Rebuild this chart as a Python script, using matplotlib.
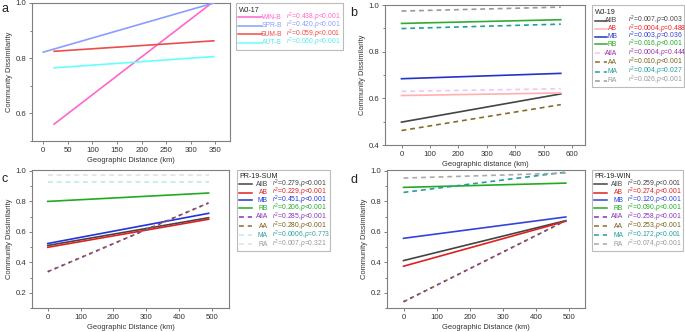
import matplotlib
matplotlib.use("Agg")
import matplotlib.pyplot as plt
from matplotlib.lines import Line2D
from matplotlib.patches import Rectangle
from matplotlib.ticker import MultipleLocator

plt.rcParams['font.family'] = ['Liberation Sans', 'DejaVu Sans']
plt.rcParams['mathtext.fontset'] = 'custom'
plt.rcParams['mathtext.rm'] = 'Liberation Sans'
plt.rcParams['mathtext.it'] = 'Liberation Sans:italic'
plt.rcParams['lines.scale_dashes'] = False

# ---------------- data ----------------
# Panel a (WJ-17)
a_names = ["WIN-B", "SPR-B", "SUM-B", "AUT-B"]
a_x0 = [22, 0, 22, 22]
a_x1 = [345, 347, 347, 347]
a_y0 = [0.561, 0.822, 0.825, 0.765]
a_y1 = [1.003, 1.000, 0.863, 0.806]
a_stats = ["0.438,$p$<0.001", "0.420,$p$<0.001", "0.059,$p$<0.001", "0.060,$p$<0.001"]

# Panel b (WJ-19)
b_names = ["AllB", "AB", "MB", "RB", "AllA", "AA", "MA", "RA"]
b_x0 = [0] * 8
b_x1 = [560] * 8
b_y0 = [0.498, 0.612, 0.684, 0.921, 0.630, 0.462, 0.899, 0.974]
b_y1 = [0.619, 0.623, 0.707, 0.937, 0.641, 0.573, 0.918, 0.991]
b_stats = ["0.007,$p$=0.003", "0.0004,$p$=0.488", "0.003,$p$=0.036", "0.016,$p$<0.001",
           "0.0004,$p$=0.444", "0.010,$p$<0.001", "0.004,$p$=0.027", "0.026,$p$<0.001"]

# Panel c (PR-19-SUM)
c_names = ["AllB", "AB", "MB", "RB", "AllA", "AA", "MA", "RA"]
c_x0 = [0] * 8
c_x1 = [490] * 8
c_y0 = [0.510, 0.498, 0.523, 0.799, 0.338, 0.338, 0.926, 0.974]
c_y1 = [0.692, 0.682, 0.721, 0.854, 0.789, 0.789, 0.926, 0.974]
c_stats = ["0.279,$p$<0.001", "0.229,$p$<0.001", "0.451,$p$<0.001", "0.206,$p$<0.001",
           "0.285,$p$<0.001", "0.280,$p$<0.001", "0.0006,$p$=0.773", "0.007,$p$=0.321"]

# Panel d (PR-19-WIN)
d_names = ["AllB", "AB", "MB", "RB", "AllA", "AA", "MA", "RA"]
d_x0 = [0] * 8
d_x1 = [490] * 8
d_y0 = [0.411, 0.374, 0.557, 0.891, 0.141, 0.141, 0.858, 0.952]
d_y1 = [0.673, 0.669, 0.697, 0.919, 0.673, 0.673, 0.991, 0.985]
d_stats = ["0.259,$p$<0.001", "0.274,$p$<0.001", "0.120,$p$<0.001", "0.090,$p$<0.001",
           "0.258,$p$<0.001", "0.253,$p$<0.001", "0.172,$p$<0.001", "0.074,$p$=0.001"]

# ---------------- styles ----------------
SOLID = '-'
DASH = (0, (3.5, 2.8))
a_line_colors = ['#ff66cc', '#8c9cff', '#ee4d4d', '#66ffff']
a_text_colors = ['#ff66cc', '#8c9cff', '#ee4d4d', '#55eeee']
a_ls = [SOLID] * 4

b_line_colors = ['#444444', '#ffb0b0', '#2233cc', '#33aa33', '#ecc8f4', '#8b6b2a', '#229e9e', '#9a9a9a']
b_text_colors = ['#444444', '#ee2222', '#3344cc', '#22aa22', '#9933aa', '#7a5c1a', '#229e9e', '#999999']
c_line_colors = ['#444444', '#e02020', '#2233dd', '#22aa22', '#8833bb', '#8b6b2a', '#bfeaea', '#e2e2e2']
c_text_colors = ['#444444', '#e02020', '#2233dd', '#22aa22', '#8833bb', '#7a5c1a', '#30a0a0', '#999999']
d_line_colors = ['#444444', '#e02020', '#3344dd', '#22aa22', '#8833bb', '#8b6b2a', '#229e9e', '#aaaaaa']
d_text_colors = ['#444444', '#e02020', '#3344dd', '#22aa22', '#8833bb', '#7a5c1a', '#229e9e', '#999999']
bcd_ls = [SOLID, SOLID, SOLID, SOLID, DASH, DASH, DASH, DASH]

fig = plt.figure(figsize=(6.85, 3.32), dpi=100)

W, H = 685.0, 332.0
def fx(x):
    return x / W
def fy(y):
    return 1 - y / H
def pos(l, t, r, b):
    return [l / W, 1 - b / H, (r - l) / W, (b - t) / H]

axa = fig.add_axes(pos(32, 3, 230, 141))
axb = fig.add_axes(pos(385, 5, 585, 145))
axc = fig.add_axes(pos(32, 170, 229, 308))
axd = fig.add_axes(pos(387, 170, 585, 308))

TFS = 5.6
LFS = 5.4

def style_axis(ax, xlim, ylim, xmaj, ymaj, ymin, xlabel):
    ax.set_xlim(*xlim)
    ax.set_ylim(*ylim)
    ax.xaxis.set_major_locator(MultipleLocator(xmaj))
    ax.yaxis.set_major_locator(MultipleLocator(ymaj))
    ax.yaxis.set_minor_locator(MultipleLocator(ymin))
    for s in ax.spines.values():
        s.set_color('#7f7f7f')
        s.set_linewidth(0.8)
    ax.tick_params(which='both', direction='out', colors='#7f7f7f', labelcolor='#333333',
                   labelsize=TFS, width=0.7, top=False, right=False, pad=1.5)
    ax.tick_params(which='major', length=2.5)
    ax.tick_params(which='minor', length=1.8)
    ax.set_xlabel(xlabel, fontsize=LFS, color='#333333', labelpad=2.5)
    ax.set_ylabel('Community Dissimilarity', fontsize=LFS, color='#333333', labelpad=2)

def draw(ax, names, x0, x1, y0, y1, colors, lss, overlap=False):
    for i, n in enumerate(names):
        ls = lss[i]
        if overlap and n == 'AA':
            ls = (0, (3.0, 2.4))
        if overlap and n == 'AllA':
            ls = (0, (1.5, 3.9))
        ax.plot([x0[i], x1[i]], [y0[i], y1[i]], color=colors[i], linestyle=ls, lw=1.2,
                zorder=3 + (1 if n == 'AllA' else 0))

GFS = 4.9
def manual_legend(title, names, stats, lcolors, tcolors, lss, frame, title_y, rows_y,
                  hx0, hx1, name_right, stat_left):
    l, t, r, b = frame
    fig.add_artist(Rectangle((fx(l), fy(b)), fx(r) - fx(l), fy(t) - fy(b),
                             transform=fig.transFigure, facecolor='white',
                             edgecolor='#bbbbbb', lw=0.8))
    fig.text(fx(l + 2.5), fy(title_y), title, fontsize=5.1, color='#222222',
             ha='left', va='center')
    for i, n in enumerate(names):
        y = rows_y[i]
        fig.add_artist(Line2D([fx(hx0), fx(hx1)], [fy(y), fy(y)], transform=fig.transFigure,
                              color=lcolors[i], linestyle=lss[i], lw=1.1))
        fig.text(fx(name_right), fy(y), n, fontsize=GFS, color=tcolors[i], ha='right', va='center')
        fig.text(fx(stat_left), fy(y), r"$r^2$=" + stats[i], fontsize=GFS, color=tcolors[i],
                 ha='left', va='center')

# panel a
draw(axa, a_names, a_x0, a_x1, a_y0, a_y1, a_line_colors, a_ls)
style_axis(axa, (-23, 380), (0.5, 1.0), 50, 0.2, 0.1, 'Geographic Distance (km)')
manual_legend('WJ-17', a_names, a_stats, a_line_colors, a_text_colors, a_ls,
              (236, 3, 343, 50), 10, [17.3, 25.7, 34.0, 42.7], 238, 262, 282, 286)

rows8 = [20.7, 29.0, 36.7, 44.3, 53.3, 62.3, 71.7, 80.7]
# panel b
draw(axb, b_names, b_x0, b_x1, b_y0, b_y1, b_line_colors, bcd_ls)
style_axis(axb, (-58, 645), (0.4, 1.0), 100, 0.2, 0.1, 'Geographic distance (km)')
manual_legend('WJ-19', b_names, b_stats, b_line_colors, b_text_colors, bcd_ls,
              (592, 5, 684, 87), 12.7, rows8, 595, 607, 617, 628)

# panel c
draw(axc, c_names, c_x0, c_x1, c_y0, c_y1, c_line_colors, bcd_ls, overlap=True)
style_axis(axc, (-48, 552), (0.1, 1.005), 100, 0.2, 0.1, 'Geographic Distance (km)')
manual_legend('PR-19-SUM', c_names, c_stats, c_line_colors, c_text_colors, bcd_ls,
              (237, 170, 330, 251), 176, [y + 163.7 for y in rows8], 239, 252, 268, 272)

# panel d
draw(axd, d_names, d_x0, d_x1, d_y0, d_y1, d_line_colors, bcd_ls, overlap=True)
style_axis(axd, (-50, 548), (0.1, 1.005), 100, 0.2, 0.1, 'Geographic Distance (km)')
manual_legend('PR-19-WIN', d_names, d_stats, d_line_colors, d_text_colors, bcd_ls,
              (592, 170, 683, 251), 176, [y + 163.7 for y in rows8], 594, 607, 623, 627)

for lab, x, y in [('a', 1, 12.5), ('b', 350, 16), ('c', 2, 182.5), ('d', 350, 183)]:
    fig.text(fx(x), fy(y), lab, fontsize=9, color='#222222', va='baseline')

fig.savefig('out.png', dpi=100)
